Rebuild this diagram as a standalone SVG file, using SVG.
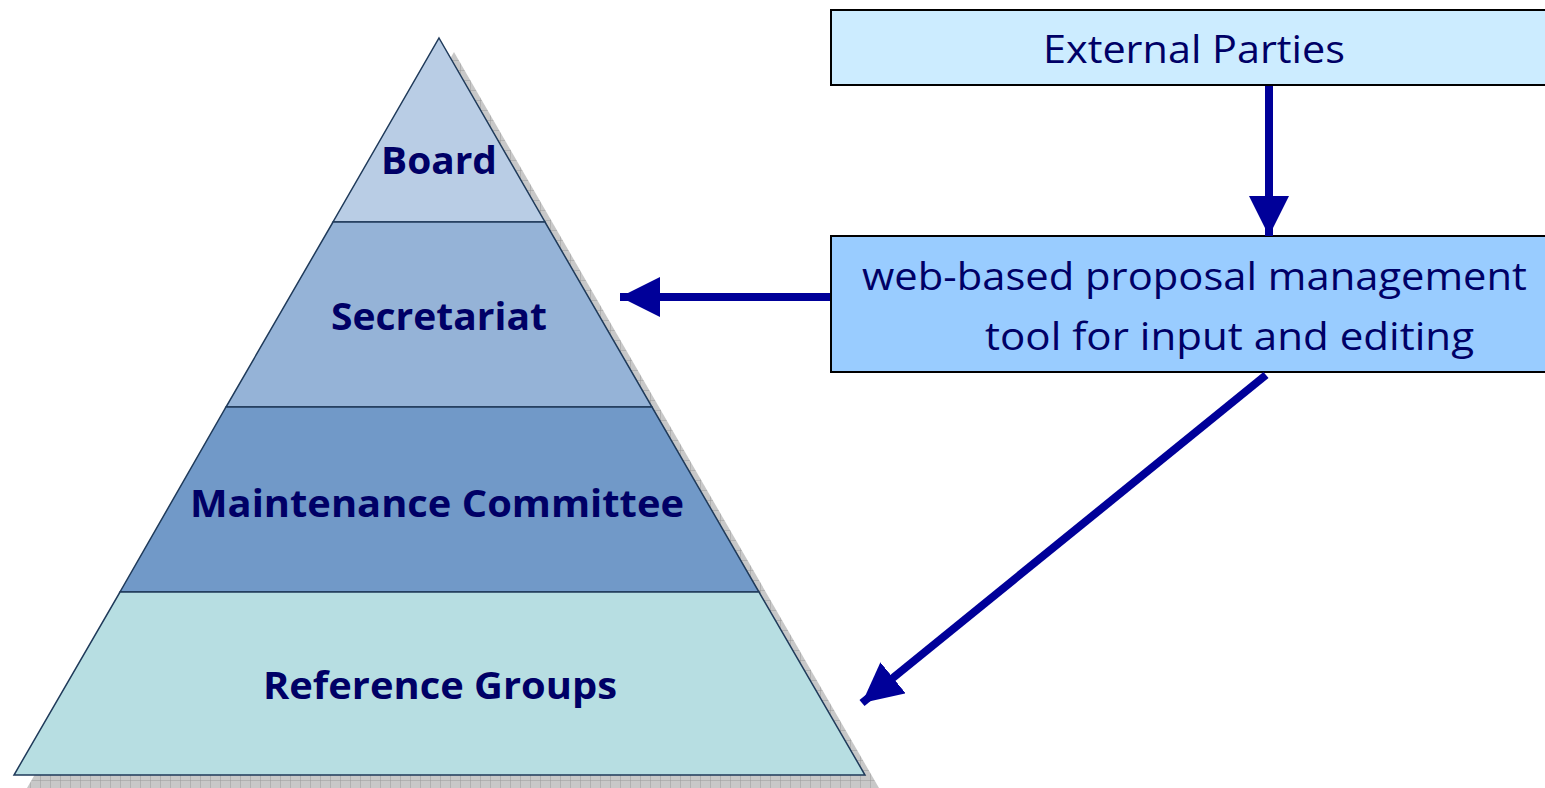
<svg xmlns="http://www.w3.org/2000/svg" width="1545" height="788" viewBox="0 0 1545 788">
<defs>
<pattern id="hatch" width="10" height="10" patternUnits="userSpaceOnUse">
<rect width="10" height="10" fill="#C8C8C8"/>
<path d="M0 0H10M0 0V10" stroke="#9A9A9A" stroke-width="1"/>
</pattern>
<marker id="ah" viewBox="0 0 40 40" refX="40" refY="20" markerWidth="40" markerHeight="40" markerUnits="userSpaceOnUse" orient="auto">
<path d="M0 0L40 20L0 40Z" fill="#000099"/>
</marker>
</defs>
<style>
.lvl{stroke:#1F3A5A;stroke-width:1.5}
.lbl{font-family:"Open Sans","Liberation Sans",sans-serif;font-weight:bold;font-size:38px;fill:#000066;text-anchor:middle}
.box{stroke:#000;stroke-width:2}
.btxt{font-family:"Open Sans","Liberation Sans",sans-serif;font-size:39px;fill:#000066;text-anchor:middle}
.conn{stroke:#000099;stroke-width:8;fill:none}
</style>
<polygon points="454,52 879,788 27,788" fill="url(#hatch)"/>
<g id="board">
<polygon class="lvl" points="439,38 545,222 333,222" fill="#B9CDE5"/>
<text class="lbl" x="439" y="174" textLength="116" lengthAdjust="spacingAndGlyphs">Board</text>
</g>
<g id="secretariat">
<polygon class="lvl" points="333,222 545,222 652,407 226,407" fill="#95B3D7"/>
<text class="lbl" x="439" y="330" textLength="216" lengthAdjust="spacingAndGlyphs">Secretariat</text>
</g>
<g id="maintenance">
<polygon class="lvl" points="226,407 652,407 759,592 120,592" fill="#7199C8"/>
<text class="lbl" x="437" y="517" textLength="494" lengthAdjust="spacingAndGlyphs">Maintenance Committee</text>
</g>
<g id="reference">
<polygon class="lvl" points="120,592 759,592 865,775 14,775" fill="#B7DEE2"/>
<text class="lbl" x="440" y="699" textLength="354" lengthAdjust="spacingAndGlyphs">Reference Groups</text>
</g>
<g id="external">
<rect class="box" x="831" y="10" width="716" height="75" fill="#CCECFF"/>
<text class="btxt" x="1194" y="63" textLength="302" lengthAdjust="spacingAndGlyphs">External Parties</text>
</g>
<g id="tool">
<rect class="box" x="831" y="236" width="716" height="136" fill="#99CCFF"/>
<text class="btxt" x="1194.5" y="290" textLength="665" lengthAdjust="spacingAndGlyphs">web-based proposal management</text>
<text class="btxt" x="1229.5" y="350" textLength="489" lengthAdjust="spacingAndGlyphs">tool for input and editing</text>
</g>
<g id="connectors">
<line class="conn" x1="1269" y1="86" x2="1269" y2="236" marker-end="url(#ah)"/>
<line class="conn" x1="830" y1="297" x2="620" y2="297" marker-end="url(#ah)"/>
<line class="conn" x1="1266" y1="375" x2="862" y2="703" marker-end="url(#ah)"/>
</g>
</svg>
